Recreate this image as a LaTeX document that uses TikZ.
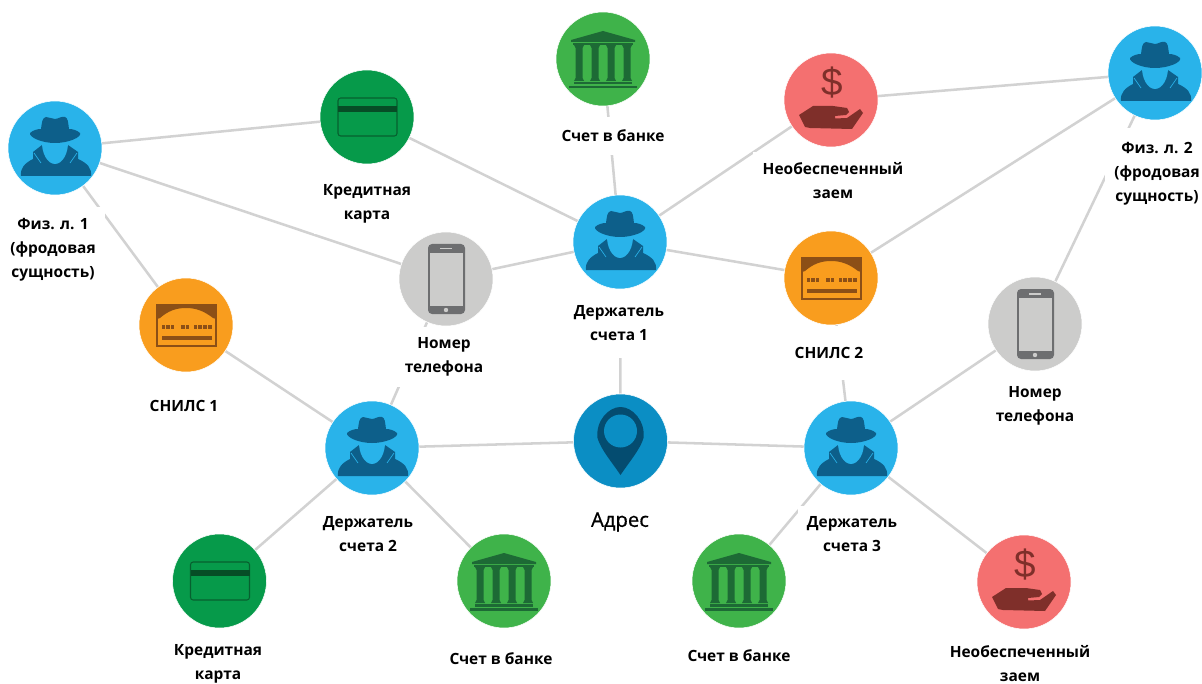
\documentclass[tikz,border=0pt]{standalone}
\usepackage{fontspec}
\setmainfont{Open Sans}
\newfontfamily\dollarfont{Liberation Sans}
\pgfdeclarelayer{edgelayer}
\pgfdeclarelayer{labellayer}
\pgfsetlayers{edgelayer,labellayer,main}
\definecolor{cblue}{HTML}{29B3EA}
\definecolor{cspy}{HTML}{0D5F8A}
\definecolor{cgreen}{HTML}{069A4A}
\definecolor{cgreend}{HTML}{064D26}
\definecolor{cbank}{HTML}{3FB34A}
\definecolor{cbankd}{HTML}{1D6A35}
\definecolor{cred}{HTML}{F47070}
\definecolor{credd}{HTML}{7F2F2A}
\definecolor{corange}{HTML}{F99D1E}
\definecolor{coranged}{HTML}{8C4F16}
\definecolor{cgrey}{HTML}{CCCCCB}
\definecolor{cgreyd}{HTML}{6D6E70}
\definecolor{cpin}{HTML}{0B8EC4}
\definecolor{cpind}{HTML}{044C70}
\definecolor{cline}{HTML}{D2D2D2}
\tikzset{
  hub/.style={circle,minimum size=70.5pt,inner sep=0pt,draw=white,line width=0.4pt},
  lbl/.style={fill=white,align=center,font=\fontsize{11.6}{18}\selectfont\bfseries,inner xsep=7pt,inner ysep=8pt,text=black},
  edge/.style={draw=cline,line width=1.9pt},
  pics/spy/.style={code={
    \fill[cspy] (-34,28) .. controls (-35,20) and (-30,15) .. (-22,11) -- (-22,4) -- (-13,-3) -- (13,-3) -- (23,4) -- (23,11) .. controls (32,15) and (37,20) .. (36,28) -- cycle;
    \fill[cblue] (-13,-9) .. controls (-14,6) and (-7,16) .. (0,16) .. controls (7,16) and (14,6) .. (13,-9) -- cycle;
    \draw[cblue,line width=0.5pt] (-21,5) -- (-14,15);
    \draw[cblue,line width=0.5pt] (22,5) -- (15,15);
    \fill[cspy] (-25,-15) .. controls (-26,-11) and (-14,-5) .. (0,-5) .. controls (14,-5) and (27,-11) .. (25,-15) .. controls (22,-18) and (17,-19) .. (14,-19) .. controls (13,-26) and (13,-30) .. (10,-31) .. controls (6,-32) and (3,-29) .. (0,-29) .. controls (-3,-29) and (-6,-31) .. (-9,-31) .. controls (-13,-30) and (-13,-26) .. (-14,-19) .. controls (-17,-19) and (-22,-18) .. (-25,-15) -- cycle;
  }},
  pics/card/.style={code={
    \draw[cgreend!75!cgreen,line width=0.8pt,rounded corners=2pt] (-29,-19) rectangle (30,19);
    \fill[cgreend] (-29,-11) rectangle (30,-5);
  }},
  pics/phone/.style={code={
    \fill[cgreyd,rounded corners=3pt] (-18,-35) rectangle (19,35);
    \fill[cgrey] (-16,-26) rectangle (17,27);
    \fill[cgrey] (-6,-31) rectangle (6,-29.5);
    \fill[cgrey] (0,31) circle (2.2);
  }},
  pics/bank/.style={code={
    \fill[cbankd] (0,-28) -- (32,-19) -- (32,-17) -- (-32,-17) -- (-32,-19) -- cycle;
    \fill[cbankd] (-30,-16) rectangle (30,-14);
    \foreach \cx in {-24,-8,8,24}{
      \fill[cbankd] (\cx-5,-14) -- (\cx+5,-14) -- (\cx+3.5,-11) -- (\cx+3.5,19) -- (\cx+5,22) -- (\cx-5,22) -- (\cx-3.5,19) -- (\cx-3.5,-11) -- cycle;
    }
    \fill[cbankd] (-29,23) rectangle (29,25.5);
    \fill[cbankd] (-34,27) rectangle (34,29.5);
  }},
  pics/snils/.style={code={
    \draw[coranged,line width=0.8pt] (-29,-20) rectangle (30,21);
    \fill[coranged] (-29,-20) -- (30,-20) -- (30,-6) -- (27,-7) .. controls (18,-14) and (10,-17) .. (0,-17) .. controls (-10,-17) and (-18,-14) .. (-26,-7) -- (-29,-6) -- cycle;
    \foreach \dx in {-22.5,-18,-13.5,-3,1.5,9.5,14,19,24}{
      \fill[coranged] (\dx-1.6,0) rectangle (\dx+1.6,4);
    }
    \fill[coranged] (-24,11) rectangle (26,15);
  }},
  pics/loan/.style={code={
    \node[text=credd,font=\dollarfont\fontsize{29}{29}\selectfont] (dollar) at (1,-17) {\$};
    \fill[credd] (-32,15) -- (-18,6) -- (2,6) -- (16,8) -- (18,12) -- (15,15) -- (4,16) -- (4,18.5) -- (16,18) -- (29,9) -- (32,13) -- (21,29) -- (-21,28) -- (-26,27) -- cycle;
  }},
  pics/pin/.style={code={
    \fill[cpind] (-23,-3) .. controls (-25,-20) and (-12,-34) .. (0,-34) .. controls (12,-34) and (25,-20) .. (23,-3) .. controls (20,8) and (8,22) .. (0,34) .. controls (-8,22) and (-20,8) .. (-23,-3) -- cycle;
    \fill[cpin] (0,-10) circle (16.5);
  }},
}
\begin{document}
\begin{tikzpicture}[x=0.75pt,y=-0.75pt]
\useasboundingbox (0,0) rectangle (1202,684);
% circles
\node[hub,fill=cblue] (fiz1) at (55,148) {};
\node[hub,fill=cgreen] (cc1) at (367,117) {};
\node[hub,fill=cbank] (bank1) at (603,59) {};
\node[hub,fill=cred] (loan1) at (831,100) {};
\node[hub,fill=cblue] (fiz2) at (1155,73) {};
\node[hub,fill=corange] (snils1) at (186,325) {};
\node[hub,fill=cgrey] (phone1) at (446,279) {};
\node[hub,fill=cblue] (h1) at (620,242) {};
\node[hub,fill=corange] (snils2) at (831,278) {};
\node[hub,fill=cgrey] (phone2) at (1035,324) {};
\node[hub,fill=cblue] (h2) at (372,448) {};
\node[hub,fill=cpin] (addr) at (620.5,441) {};
\node[hub,fill=cblue] (h3) at (851,448) {};
\node[hub,fill=cgreen] (cc2) at (219.5,581) {};
\node[hub,fill=cbank] (bank2) at (504,581) {};
\node[hub,fill=cbank] (bank3) at (739,581) {};
\node[hub,fill=cred] (loan2) at (1024,582) {};
% icons
\pic at (fiz1) {spy};
\pic at (fiz2) {spy};
\pic at (h1) {spy};
\pic at (h2) {spy};
\pic at (h3) {spy};
\pic at (cc1) {card};
\pic at (cc2) {card};
\pic at (phone1) {phone};
\pic at (phone2) {phone};
\pic at (bank1) {bank};
\pic at (bank2) {bank};
\pic at (bank3) {bank};
\pic at (snils1) {snils};
\pic at (snils2) {snils};
\pic at (loan1) {loan};
\pic at (loan2) {loan};
\pic at (addr) {pin};
% connectors
\begin{pgfonlayer}{edgelayer}
\foreach \a/\b in {fiz1/cc1,cc1/h1,fiz1/phone1,phone1/h1,fiz1/snils1,snils1/h2,phone1/h2,h1/bank1,h1/loan1,h1/snils2,loan1/fiz2,snils2/fiz2,fiz2/phone2,phone2/h3,snils2/h3,h1/addr,h2/addr,addr/h3,h2/cc2,h2/bank2,h3/bank3,h3/loan2}{
  \draw[edge] (\a) -- (\b);
}
\end{pgfonlayer}
% labels
\begin{pgfonlayer}{labellayer}
\node[lbl] (lfiz1) at (53,249.5) {Физ. л. 1\\(фродовая\\сущность)};
\node[lbl] (lcc1) at (367,204) {Кредитная\\карта};
\node[lbl,inner ysep=10pt] (lbank1) at (613,136) {Счет в банке};
\node[lbl] (lloan1) at (833,181) {Необеспеченный\\заем};
\node[lbl,inner ysep=11pt] (lfiz2) at (1157,174) {Физ. л. 2\\(фродовая\\сущность)};
\node[lbl] (lphone1) at (444,357) {Номер\\телефона};
\node[lbl,inner ysep=13pt] (lh1) at (619,323) {Держатель\\счета 1};
\node[lbl,inner ysep=16pt] (lsnils2) at (829,353) {СНИЛС 2};
\node[lbl] (lsnils1) at (184,406) {СНИЛС 1};
\node[lbl] (lphone2) at (1035,406) {Номер\\телефона};
\node[lbl] (lh2) at (368,534) {Держатель\\счета 2};
\node[lbl,font=\fontsize{15.2}{18}\selectfont\addfontfeature{FakeBold=0.6}] (laddr) at (620,522) {Адрес};
\node[lbl] (lh3) at (852,534) {Держатель\\счета 3};
\node[lbl] (lcc2) at (218,664) {Кредитная\\карта};
\node[lbl] (lbank2) at (501,659) {Счет в банке};
\node[lbl] (lbank3) at (739,656) {Счет в банке};
\node[lbl] (lloan2) at (1020,664) {Необеспеченный\\заем};
\end{pgfonlayer}
\end{tikzpicture}
\end{document}
